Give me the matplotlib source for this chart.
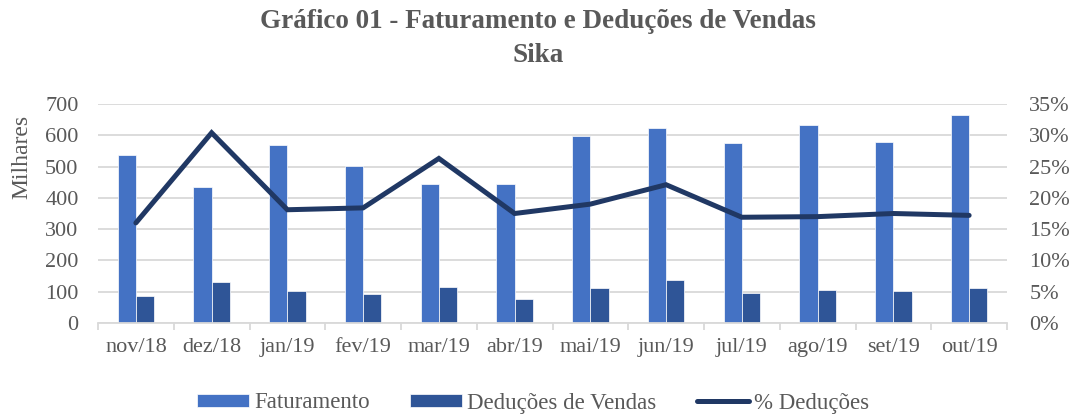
import numpy as np
import matplotlib.pyplot as plt

meses = ['nov/18', 'dez/18', 'jan/19', 'fev/19', 'mar/19', 'abr/19',
         'mai/19', 'jun/19', 'jul/19', 'ago/19', 'set/19', 'out/19']
faturamento = [538, 434, 570, 503, 443, 444, 598, 623, 575, 634, 579, 664]
deducoes = [85, 131, 101, 93, 116, 77, 113, 136, 96, 106, 101, 113]
perc_deducoes = [16.0, 30.4, 18.1, 18.4, 26.3, 17.5, 19.0, 22.1, 16.9, 17.0, 17.5, 17.2]

plt.rcParams['font.family'] = ['Liberation Serif', 'DejaVu Serif']
cinza = '#595959'
fs = 16

fig = plt.figure(figsize=(10.76, 4.17), dpi=100)
ax = fig.add_axes([98 / 1076, 1 - 323 / 417, (1007 - 98) / 1076, (323 - 104) / 417])

x = np.arange(len(meses))
w = 0.24
ax.bar(x - w / 2, faturamento, w, color='#4472C4', edgecolor='white', linewidth=0.5,
       label='Faturamento', zorder=2)
ax.bar(x + w / 2, deducoes, w, color='#2F5597', edgecolor='white', linewidth=0.5,
       label='Deduções de Vendas', zorder=2)

ax.set_xlim(-0.5, len(meses) - 0.5)
ax.set_ylim(0, 700)
ax.set_yticks(range(0, 701, 100))
ax.yaxis.grid(True, color='#D9D9D9', linewidth=1.3, zorder=0)
ax.set_axisbelow(True)
for s in ['top', 'right', 'left']:
    ax.spines[s].set_visible(False)
ax.spines['bottom'].set_color('#D9D9D9')
ax.spines['bottom'].set_linewidth(1.3)

ax.set_xticks(x)
ax.set_xticklabels(meses)
ax.set_xticks(np.arange(-0.5, len(meses)), minor=True)
ax.tick_params(axis='x', which='major', length=0, pad=11, labelsize=fs, labelcolor=cinza)
ax.tick_params(axis='x', which='minor', length=5, color='#D9D9D9', width=1.3)
ax.tick_params(axis='y', length=0, labelsize=fs, labelcolor=cinza, pad=14)
fig.text(22 / 1076, 1 - 157 / 417, 'Milhares', rotation=90, ha='center', va='center',
         fontsize=17, color=cinza)

ax2 = ax.twinx()
ax2.plot(x, perc_deducoes, color='#203864', linewidth=3.6, label='% Deduções',
         solid_joinstyle='miter', solid_capstyle='round', zorder=3)
ax2.set_ylim(0, 35)
ax2.set_yticks(range(0, 36, 5))
ax2.set_yticklabels([f'{v}%' for v in range(0, 36, 5)])
ax2.tick_params(axis='y', length=0, labelsize=fs, labelcolor=cinza, pad=16)
for s in ax2.spines.values():
    s.set_visible(False)

fig.text(0.5, 1 - 22 / 417, 'Gráfico 01 - Faturamento e Deduções de Vendas',
         ha='center', va='center', fontsize=19.5, fontweight='bold', color=cinza)
fig.text(0.5, 1 - 55 / 417, 'Sika', ha='center', va='center',
         fontsize=19.5, fontweight='bold', color=cinza)

h1, l1 = ax.get_legend_handles_labels()
h2, l2 = ax2.get_legend_handles_labels()
fig.legend(h1 + h2, l1 + l2, loc='center', bbox_to_anchor=(533 / 1076, 1 - 403 / 417),
           ncol=3, frameon=False, fontsize=16.5, labelcolor=cinza,
           handlelength=2.27, handleheight=0.48, columnspacing=1.75, handletextpad=0.22)

fig.savefig('out.png', dpi=100)
